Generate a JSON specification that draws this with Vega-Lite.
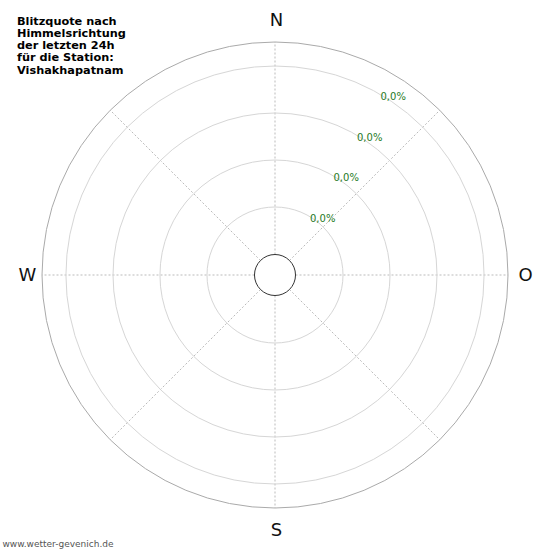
{
  "$schema": "https://vega.github.io/schema/vega-lite/v6.json",
  "width": 550,
  "height": 550,
  "padding": 0,
  "autosize": "none",
  "background": "white",
  "config": {
    "view": {"stroke": null},
    "font": "DejaVu Sans"
  },
  "title": {
    "text": ["Blitzquote nach", "Himmelsrichtung", "der letzten 24h", "für die Station:", "Vishakhapatnam"],
    "anchor": "start",
    "frame": "group",
    "orient": "top",
    "baseline": "top",
    "offset": 0,
    "dx": 17,
    "dy": 76,
    "font": "DejaVu Sans",
    "fontSize": 11.3,
    "fontWeight": "bold",
    "lineHeight": 12.2,
    "color": "#000000"
  },
  "datasets": {
    "rings": [
      {"r": 20.5, "kind": "inner"},
      {"r": 68, "kind": "grid"},
      {"r": 115, "kind": "grid"},
      {"r": 162, "kind": "grid"},
      {"r": 209, "kind": "grid"},
      {"r": 233, "kind": "outer"}
    ],
    "spokes": [
      {"x": 0, "y": 20.5, "x2": 0, "y2": 233},
      {"x": 14.5, "y": 14.5, "x2": 164.8, "y2": 164.8},
      {"x": 20.5, "y": 0, "x2": 233, "y2": 0},
      {"x": 14.5, "y": -14.5, "x2": 164.8, "y2": -164.8},
      {"x": 0, "y": -20.5, "x2": 0, "y2": -233},
      {"x": -14.5, "y": -14.5, "x2": -164.8, "y2": -164.8},
      {"x": -20.5, "y": 0, "x2": -233, "y2": 0},
      {"x": -14.5, "y": 14.5, "x2": -164.8, "y2": 164.8}
    ],
    "quota": [
      {"r": 68, "angle": 30, "label": "0,0%"},
      {"r": 115, "angle": 30, "label": "0,0%"},
      {"r": 162, "angle": 30, "label": "0,0%"},
      {"r": 209, "angle": 30, "label": "0,0%"}
    ],
    "compass": [
      {"r": 255, "angle": 0, "label": "N"},
      {"r": 249, "angle": 90, "label": "O"},
      {"r": 255, "angle": 180, "label": "S"},
      {"r": 249, "angle": 270, "label": "W"}
    ]
  },
  "layer": [
    {
      "data": {"name": "spokes"},
      "mark": {"type": "rule", "strokeDash": [2, 2], "strokeWidth": 1},
      "encoding": {
        "x": {
          "field": "x", "type": "quantitative",
          "scale": {"domain": [-275, 275], "nice": false, "zero": false},
          "axis": {
            "title": "www.wetter-gevenich.de",
            "domain": false, "ticks": false, "labels": false, "grid": false,
            "titleAnchor": "start", "titleAlign": "left",
            "titleX": 2, "titleY": -4, "titleBaseline": "alphabetic",
            "titleFont": "DejaVu Sans", "titleFontSize": 9, "titleFontWeight": "normal",
            "titleColor": "#555555"
          }
        },
        "y": {
          "field": "y", "type": "quantitative",
          "scale": {"domain": [-275, 275], "nice": false, "zero": false},
          "axis": null
        },
        "x2": {"field": "x2"},
        "y2": {"field": "y2"},
        "color": {"value": "#bbbbbb"}
      }
    },
    {
      "data": {"name": "rings"},
      "mark": {"type": "arc", "filled": false, "strokeWidth": 1},
      "encoding": {
        "theta": {"value": 0},
        "theta2": {"value": 6.2832},
        "radius": {
          "field": "r", "type": "quantitative", "stack": false,
          "scale": {"type": "linear", "domain": [0, 275], "range": [0, 275], "zero": true, "nice": false}
        },
        "stroke": {
          "field": "kind", "type": "nominal",
          "scale": {"domain": ["inner", "grid", "outer"], "range": ["#333333", "#d6d6d6", "#aaaaaa"]},
          "legend": null
        }
      }
    },
    {
      "data": {"name": "quota"},
      "mark": {"type": "text", "align": "left", "baseline": "alphabetic", "dx": 1, "dy": 6, "fontSize": 10, "font": "DejaVu Sans"},
      "encoding": {
        "theta": {
          "field": "angle", "type": "quantitative", "stack": false,
          "scale": {"type": "linear", "domain": [0, 360], "range": [0, 6.2832], "zero": true, "nice": false}
        },
        "radius": {"field": "r", "type": "quantitative", "stack": false},
        "text": {"field": "label"},
        "color": {"value": "#1f7a1f"}
      }
    },
    {
      "data": {"name": "compass"},
      "mark": {"type": "text", "align": "center", "baseline": "middle", "dx": 1.5, "dy": 1, "fontSize": 18, "font": "DejaVu Sans"},
      "encoding": {
        "theta": {"field": "angle", "type": "quantitative", "stack": false},
        "radius": {"field": "r", "type": "quantitative", "stack": false},
        "text": {"field": "label"},
        "color": {"value": "#111111"}
      }
    }
  ]
}
